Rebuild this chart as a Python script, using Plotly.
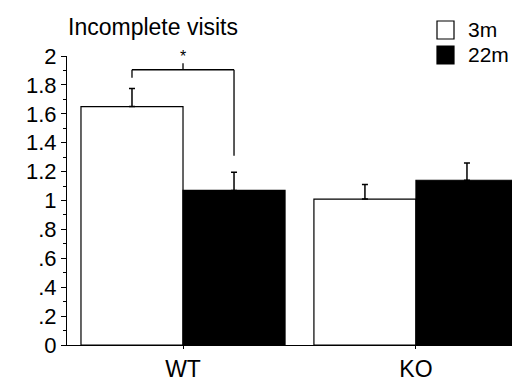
import plotly.graph_objects as go

# ---- data ----
groups = ["WT", "KO"]
series_names = ["3m", "22m"]
values_3m = [1.65, 1.01]
values_22m = [1.07, 1.14]
err_3m = [0.125, 0.10]
err_22m = [0.125, 0.12]
ytick_vals = [0, 0.2, 0.4, 0.6, 0.8, 1, 1.2, 1.4, 1.6, 1.8, 2]
ytick_text = ["0", ".2", ".4", ".6", ".8", "1", "1.2", "1.4", "1.6", "1.8", "2"]
# significance bracket (WT 3m vs WT 22m)
bracket_top = 1.905
bracket_left_bottom = 1.85
bracket_right_bottom = 1.31
bracket_mid_top = 1.95
star_y = 1.995

W, H = 520, 386
L, R, T, B = 59, 0, 48, 49
FONT = "Liberation Sans, Arial, sans-serif"

bargap = 0.124
bar_w = (1 - bargap) / 2
offset = bar_w / 2

fig = go.Figure()
fig.add_trace(go.Bar(
    name=series_names[0], x=groups, y=values_3m,
    marker=dict(color="white", line=dict(color="black", width=1.2)),
    error_y=dict(type="data", array=err_3m, arrayminus=[0, 0], symmetric=False,
                 color="black", thickness=1.5, width=3),
    showlegend=False,
))
fig.add_trace(go.Bar(
    name=series_names[1], x=groups, y=values_22m,
    marker=dict(color="black", line=dict(color="black", width=1.2)),
    error_y=dict(type="data", array=err_22m, arrayminus=[0, 0], symmetric=False,
                 color="black", thickness=1.5, width=3),
    showlegend=False,
))

# bracket
xl = 0 - offset
xr = 0 + offset
line = dict(color="black", width=1.3)
fig.add_shape(type="line", x0=xl, x1=xr, y0=bracket_top, y1=bracket_top, xref="x", yref="y", line=line)
fig.add_shape(type="line", x0=xl, x1=xl, y0=bracket_left_bottom, y1=bracket_top, xref="x", yref="y", line=line)
fig.add_shape(type="line", x0=xr, x1=xr, y0=bracket_right_bottom, y1=bracket_top, xref="x", yref="y", line=line)
fig.add_shape(type="line", x0=0, x1=0, y0=bracket_top, y1=bracket_mid_top, xref="x", yref="y", line=line)
fig.add_annotation(x=0, y=star_y, xref="x", yref="y", text="*", showarrow=False,
                   font=dict(family=FONT, size=16, color="black"), yanchor="middle")

# helpers for pixel -> paper
pw = W - L - R
ph = H - T - B
def px(xpix):
    return (xpix - L) / pw
def py(ypix):
    return (H - B - ypix) / ph

# legend (manual)
fig.add_shape(type="rect", xref="paper", yref="paper", x0=px(429), x1=px(446), y0=py(31), y1=py(13),
              line=dict(color="black", width=1.2), fillcolor="white")
fig.add_shape(type="rect", xref="paper", yref="paper", x0=px(429), x1=px(446), y0=py(56), y1=py(38),
              line=dict(color="black", width=1.2), fillcolor="black")
fig.add_annotation(xref="paper", yref="paper", x=px(458), y=py(22), text=series_names[0], showarrow=False,
                   xanchor="left", yanchor="middle", font=dict(family=FONT, size=21, color="black"))
fig.add_annotation(xref="paper", yref="paper", x=px(458), y=py(47), text=series_names[1], showarrow=False,
                   xanchor="left", yanchor="middle", font=dict(family=FONT, size=21, color="black"))

# title
fig.add_annotation(xref="paper", yref="paper", x=px(58), y=py(19), text="Incomplete visits", showarrow=False,
                   xanchor="left", yanchor="middle", font=dict(family=FONT, size=23, color="black"))

fig.update_layout(
    width=W, height=H,
    margin=dict(l=L, r=R, t=T, b=B, pad=0),
    paper_bgcolor="white", plot_bgcolor="white",
    barmode="group", bargap=bargap, bargroupgap=0,
    font=dict(family=FONT, color="black"),
)
fig.update_xaxes(
    type="category", range=[-0.498, 1.481],
    showline=True, linecolor="black", linewidth=1.2,
    ticks="outside", ticklen=3, tickcolor="black",
    tickfont=dict(family=FONT, size=23, color="black"),
    showgrid=False, zeroline=False,
)
fig.update_yaxes(
    range=[0, 2], tickvals=ytick_vals, ticktext=ytick_text,
    showline=True, linecolor="black", linewidth=1.2,
    ticks="outside", ticklen=5, tickcolor="black",
    minor=dict(dtick=0.1, ticks="outside", ticklen=3, tickcolor="black"),
    tickfont=dict(family=FONT, size=22, color="black"),
    showgrid=False, zeroline=False,
)

fig.write_html("out.html")
